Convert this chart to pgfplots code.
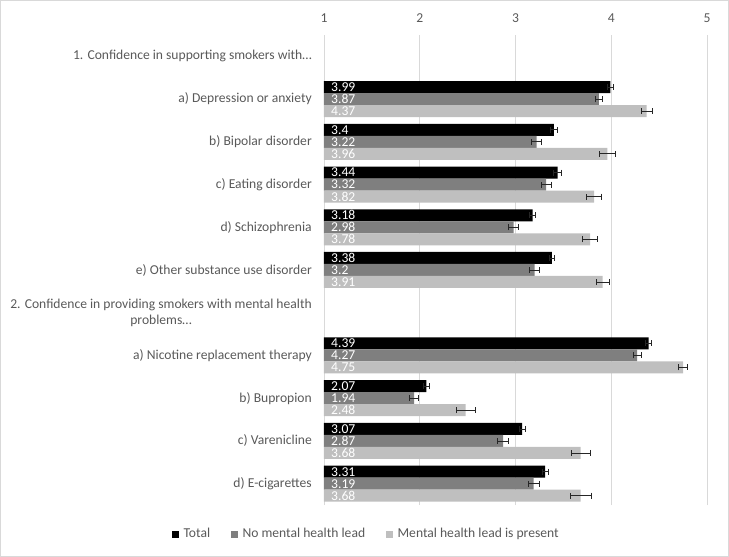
\documentclass[border=0pt]{standalone}
\usepackage{fontspec}
\setmainfont{Carlito}
\usepackage{pgfplots}
\usepackage{pgfplotstable}
\pgfplotsset{compat=1.18}
\definecolor{txt}{HTML}{595959}
\definecolor{gridc}{HTML}{D9D9D9}
\definecolor{cT}{HTML}{000000}
\definecolor{cN}{HTML}{7F7F7F}
\definecolor{cL}{HTML}{BFBFBF}
\definecolor{errc}{HTML}{262626}
\newcommand{\fs}{\fontsize{13.6}{15.5}\selectfont}

\pgfplotstableread{
y t te n ne l le
9 3.99 0.03 3.87 0.04 4.37 0.06
8 3.4 0.04 3.22 0.05 3.96 0.08
7 3.44 0.04 3.32 0.05 3.82 0.08
6 3.18 0.03 2.98 0.05 3.78 0.08
5 3.38 0.03 3.2 0.05 3.91 0.07
3 4.39 0.03 4.27 0.04 4.75 0.05
2 2.07 0.03 1.94 0.05 2.48 0.10
1 3.07 0.03 2.87 0.06 3.68 0.10
0 3.31 0.03 3.19 0.06 3.68 0.11
}\data

\pgfplotsset{
  errplot/.style={draw=none, mark=none, forget plot,
    error bars/.cd, x dir=both, x explicit, error mark=|,
    error bar style={errc, line width=0.75pt},
    error mark options={errc, mark size=3pt, line width=0.75pt}},
  lblplot/.style={draw=none, mark=none, forget plot, nodes near coords, point meta=explicit symbolic,
    every node near coord/.append style={anchor=west, inner sep=0pt, xshift=7pt, yshift=#1, text=white, font=\fs}},
}

\begin{document}
\begin{tikzpicture}
\begin{axis}[
  name=ax,
  scale only axis,
  width=383pt, height=470pt,
  xmin=1, xmax=5, ymin=-0.5, ymax=10.5,
  xtick={1,2,3,4,5},
  xticklabel pos=upper,
  ytick={0,...,10},
  yticklabels={d) E-cigarettes, c) Varenicline, b) Bupropion, a) Nicotine replacement therapy, {2. Confidence in providing smokers with mental health\\problems…}, e) Other substance use disorder, d) Schizophrenia, c) Eating disorder, b) Bipolar disorder, a) Depression or anxiety, 1. Confidence in supporting smokers with…},
  major tick length=0pt,
  axis line style={draw=none},
  xmajorgrids,
  grid style={gridc, line width=0.75pt},
  /pgf/number format/assume math mode=true,
  tick label style={font=\fs, text=txt},
  yticklabel style={align=center, inner sep=0pt, xshift=-12pt},
  xticklabel style={inner sep=0pt, yshift=12pt},
  legend columns=3,
  legend style={draw=none, fill=none, inner sep=0pt, font=\fs, text=txt,
    at={(-0.397,-0.0617)}, anchor=west,
    /tikz/every odd column/.append style={column sep=3pt},
    /tikz/every even column/.append style={column sep=19pt}},
  legend cell align=left,
]
\addplot[xbar, bar width=12pt, bar shift=12pt, fill=cT, draw=none, forget plot]
  table[x=t, y=y]{\data};
\addplot[xbar, bar width=12pt, bar shift=0pt, fill=cN, draw=none, forget plot]
  table[x=n, y=y]{\data};
\addplot[xbar, bar width=12pt, bar shift=-12pt, fill=cL, draw=none, forget plot]
  table[x=l, y=y]{\data};

\addplot[errplot] table[x=t, y expr=\thisrow{y}+0.28103, x error=te]{\data};
\addplot[errplot] table[x=n, y=y, x error=ne]{\data};
\addplot[errplot] table[x=l, y expr=\thisrow{y}-0.28103, x error=le]{\data};

\addplot[lblplot=12pt] table[x expr=1, y=y, meta=t]{\data};
\addplot[lblplot=0pt] table[x expr=1, y=y, meta=n]{\data};
\addplot[lblplot=-12pt] table[x expr=1, y=y, meta=l]{\data};

\addlegendimage{legend image code/.code={\fill[cT] (0pt,-3pt) rectangle (6pt,3pt);}}
\addlegendentry{Total}
\addlegendimage{legend image code/.code={\fill[cN] (0pt,-3pt) rectangle (6pt,3pt);}}
\addlegendentry{No mental health lead}
\addlegendimage{legend image code/.code={\fill[cL] (0pt,-3pt) rectangle (6pt,3pt);}}
\addlegendentry{Mental health lead is present}
\end{axis}
\draw[gridc, line width=0.75pt] ([shift={(-323.6pt,-51.6pt)}]ax.south west) rectangle ++(728.2pt,556.2pt);
\end{tikzpicture}
\end{document}
